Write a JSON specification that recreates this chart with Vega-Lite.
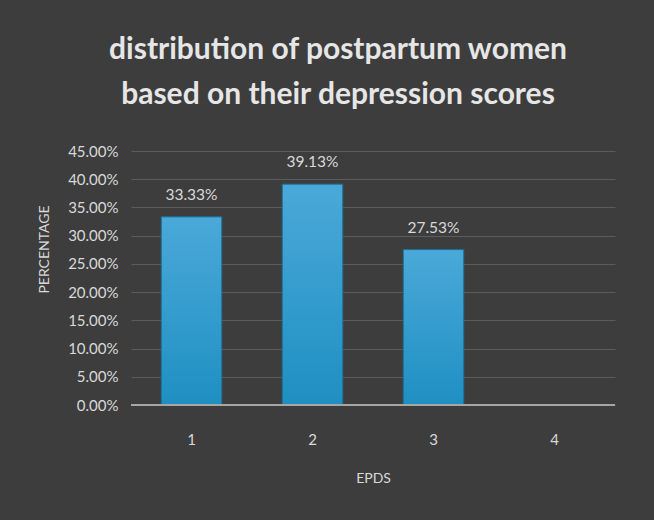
{
  "$schema": "https://vega.github.io/schema/vega-lite/v6.json",
  "autosize": {"type": "none"},
  "width": 484,
  "height": 254,
  "padding": {"left": 131, "top": 151, "right": 39, "bottom": 115},
  "background": "#3d3d3d",
  "title": {
    "text": ["distribution of postpartum women", "based on their depression scores"],
    "font": "Lato",
    "fontSize": 30,
    "fontWeight": "bold",
    "color": "#e6e6e6",
    "lineHeight": 45,
    "anchor": "middle",
    "frame": "group",
    "dx": -35,
    "offset": 34
  },
  "data": {
    "values": [
      {"EPDS": "1", "pct": 0.3333},
      {"EPDS": "2", "pct": 0.3913},
      {"EPDS": "3", "pct": 0.2753}
    ]
  },
  "config": {
    "view": {"stroke": null},
    "font": "Lato",
    "axis": {
      "labelColor": "#d9d9d9",
      "titleColor": "#d9d9d9",
      "labelFont": "Lato",
      "titleFont": "Lato",
      "labelFontSize": 15,
      "titleFontSize": 14,
      "titleFontWeight": "normal",
      "gridColor": "#5c5c5c",
      "gridWidth": 1,
      "domainColor": "#a6a6a6",
      "tickSize": 0
    }
  },
  "encoding": {
    "x": {
      "field": "EPDS",
      "type": "nominal",
      "scale": {"domain": ["1", "2", "3", "4"], "paddingInner": 0.5, "paddingOuter": 0.25},
      "axis": {"labelAngle": 0, "labelPadding": 27, "title": "EPDS", "titlePadding": 24, "domain": false, "grid": false}
    },
    "y": {
      "field": "pct",
      "type": "quantitative",
      "scale": {"domain": [0, 0.45], "nice": false},
      "axis": {
        "values": [0, 0.05, 0.1, 0.15, 0.2, 0.25, 0.3, 0.35, 0.4, 0.45],
        "format": ".2%",
        "title": "PERCENTAGE",
        "titlePadding": 16,
        "titleY": 98,
        "labelPadding": 13,
        "domain": false,
        "grid": true
      }
    }
  },
  "layer": [
    {
      "mark": {
        "type": "bar",
        "color": {
          "gradient": "linear",
          "x1": 0, "y1": 0, "x2": 0, "y2": 1,
          "stops": [
            {"offset": 0, "color": "#4aa9d9"},
            {"offset": 1, "color": "#1f8fc2"}
          ]
        },
        "stroke": "#1d6f94",
        "strokeWidth": 1
      }
    },
    {
      "mark": {"type": "rule", "color": "#a6a6a6", "strokeWidth": 2},
      "encoding": {"y": {"datum": 0}, "x": {}}
    },
    {
      "mark": {"type": "text", "baseline": "bottom", "dy": -14, "color": "#d9d9d9", "fontSize": 15.5, "font": "Lato"},
      "encoding": {"text": {"field": "pct", "type": "quantitative", "format": ".2%"}}
    }
  ]
}
